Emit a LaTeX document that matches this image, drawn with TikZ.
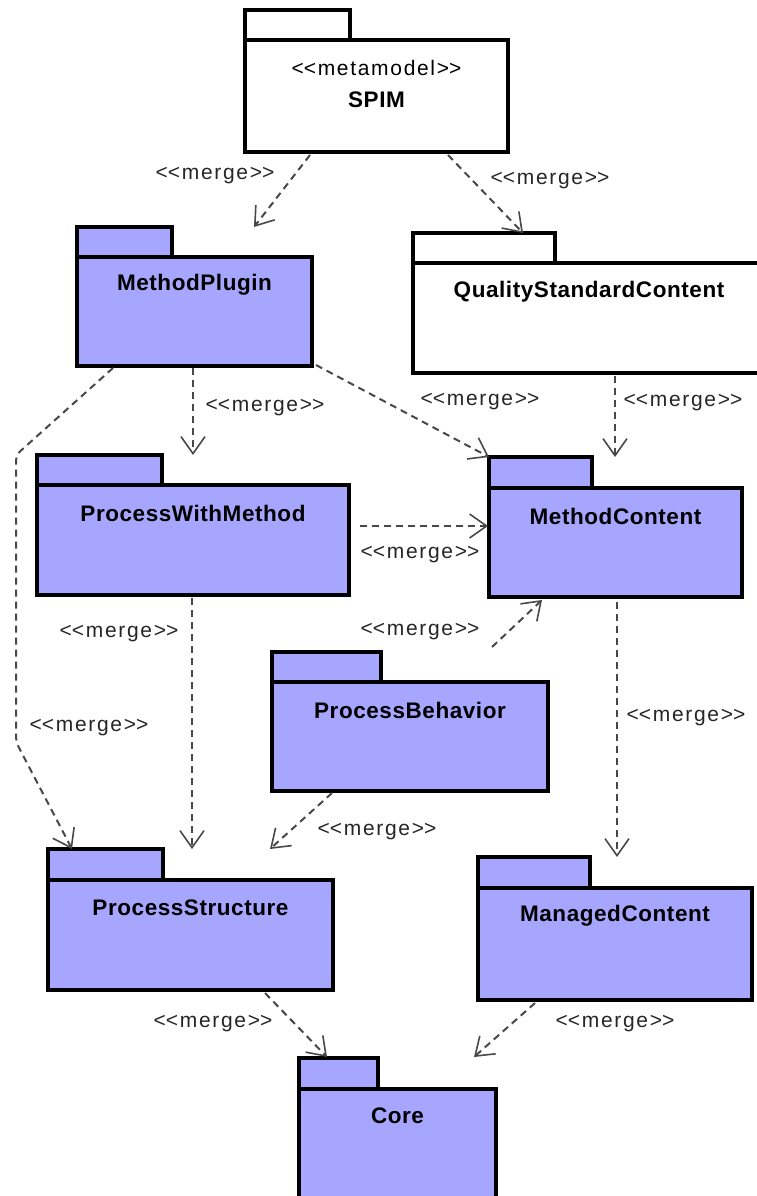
\documentclass[tikz,border=0pt]{standalone}
\usepackage{fontspec}
\setmainfont{Liberation Sans}
\newfontfamily\namefont{Liberation Sans}[LetterSpace=2.5]
\newfontfamily\labelfont{Liberation Sans}[LetterSpace=8]
\usetikzlibrary{arrows.meta,calc}

\definecolor{pkgblue}{RGB}{166,166,255}
\definecolor{depgray}{RGB}{72,72,72}

% stereotype brackets, kept as plain < and >
\newcommand\stereotype[1]{<\kern0pt<#1>\kern0pt>}

\tikzset{
  pkgline/.style={draw=black, line width=3.5pt},
  pkgbody/.style={pkgline, rectangle, inner sep=0pt, outer sep=0pt, anchor=north west},
  pkgname/.style={font=\namefont\fontsize{22.5}{26}\selectfont\bfseries, inner sep=0pt},
  stereo/.style={font=\labelfont\fontsize{21}{25}\selectfont, inner sep=0pt},
  mlabel/.style={font=\labelfont\fontsize{21}{25}\selectfont, text=black!85, inner sep=0pt},
  merge/.style={draw=depgray, line width=2pt, dash pattern=on 7pt off 5pt,
    -{Straight Barb[length=17pt,width=24pt,line width=1.6pt]}},
}

% \umlpkg{name}{left}{tab top}{tab right}{body top}{right}{bottom}{fill}
\newcommand\umlpkg[8]{%
  \draw[pkgline, fill=#8] (#2,#3) rectangle (#4,#5);
  \node[pkgbody, fill=#8, minimum width={(#6-#2)*1pt}, minimum height={(#7-#5)*1pt}]
    (#1) at (#2,#5) {};
}

\begin{document}
\begin{tikzpicture}[x=1pt, y=-1pt]
  \useasboundingbox (0,0) rectangle (757,1196);
  \clip (0,0) rectangle (757,1196);

  % packages
  \umlpkg{spim}{245}{10}{350}{40}{508}{152}{white}
  \umlpkg{plugin}{77}{227}{172}{257}{312}{366}{pkgblue}
  \umlpkg{quality}{413}{233}{555}{263}{766}{373}{white}
  \umlpkg{pwm}{37}{455}{162}{485}{349}{595}{pkgblue}
  \umlpkg{content}{489}{457}{592}{488}{742}{597}{pkgblue}
  \umlpkg{behavior}{272}{652}{381}{682}{548}{791}{pkgblue}
  \umlpkg{structure}{48}{849}{163}{880}{333}{990}{pkgblue}
  \umlpkg{managed}{478}{857}{590}{888}{752}{1000}{pkgblue}
  \umlpkg{core}{299}{1058}{378}{1089}{496}{1215}{pkgblue}

  % package titles
  \node[stereo]  (spim-st)    at ($(spim.north)+(0,28)$) {\stereotype{metamodel}};
  \node[pkgname] (spim-nm)    at ($(spim.north)+(0,60)$) {SPIM};
  \node[pkgname] (plugin-nm)  at ($(plugin.north)+(0,28)$) {MethodPlugin};
  \node[pkgname] (quality-nm) at ($(quality.north west)+(176,29)$) {QualityStandardContent};
  \node[pkgname] (pwm-nm)     at ($(pwm.north)+(0,28)$) {ProcessWithMethod};
  \node[pkgname] (content-nm) at ($(content.north)+(0,28)$) {MethodContent};
  \node[pkgname] (behavior-nm) at ($(behavior.north)+(0,28)$) {ProcessBehavior};
  \node[pkgname] (structure-nm) at ($(structure.north)+(0,28)$) {ProcessStructure};
  \node[pkgname] (managed-nm) at ($(managed.north)+(0,28)$) {ManagedContent};
  \node[pkgname] (core-nm)    at ($(core.north)+(0,27)$) {Core};

  % bends of the long connector on the left
  \coordinate (bendA) at (16,455);
  \coordinate (bendB) at (16,742);

  % merge dependencies
  \draw[merge] ($(spim.south west)+(65,3)$) -- ($(plugin.north west)+(177,-30)$);
  \draw[merge] ($(spim.south west)+(203,3)$) -- ($(quality.north west)+(110,-30)$);
  \draw[merge] ($(plugin.south west)+(116,2)$) -- ($(pwm.north west)+(156,-30)$);
  \draw[merge] ($(plugin.south east)+(4,-1)$) -- ($(content.north west)+(0,-31)$);
  \draw[merge] ($(quality.south west)+(202,3)$) -- ($(content.north west)+(126,-31)$);
  \draw[merge, rounded corners=6pt] ($(plugin.south west)+(36,2)$) -- (bendA) -- (bendB)
    -- ($(structure.north west)+(24,-31)$);
  \draw[merge] ($(pwm.north east)+(11,41)$) -- ($(content.north west)+(-1,38)$);
  \draw[merge] ($(pwm.south west)+(155,3)$) -- ($(structure.north west)+(144,-31)$);
  \draw[merge] ($(behavior.north east)+(-56,-35)$) -- ($(content.south west)+(53,3)$);
  \draw[merge] ($(content.south west)+(128,5)$) -- ($(managed.north west)+(139,-31)$);
  \draw[merge] ($(behavior.south west)+(60,2)$) -- ($(structure.north east)+(-63,-31)$);
  \draw[merge] ($(structure.south east)+(-68,3)$) -- ($(core.north west)+(28,-32)$);
  \draw[merge] ($(managed.south west)+(57,3)$) -- ($(core.north east)+(-22,-32)$);

  % merge labels
  \node[mlabel] (m1)  at (215,176)  {\stereotype{merge}};
  \node[mlabel] (m2)  at (550,181)  {\stereotype{merge}};
  \node[mlabel] (m3)  at (265,408)  {\stereotype{merge}};
  \node[mlabel] (m4)  at (480,402)  {\stereotype{merge}};
  \node[mlabel] (m5)  at (683,403)  {\stereotype{merge}};
  \node[mlabel] (m6)  at (89,728)   {\stereotype{merge}};
  \node[mlabel] (m7)  at (420,555)  {\stereotype{merge}};
  \node[mlabel] (m8)  at (119,634)  {\stereotype{merge}};
  \node[mlabel] (m9)  at (420,632)  {\stereotype{merge}};
  \node[mlabel] (m10) at (686,718)  {\stereotype{merge}};
  \node[mlabel] (m11) at (377,832)  {\stereotype{merge}};
  \node[mlabel] (m12) at (213,1024) {\stereotype{merge}};
  \node[mlabel] (m13) at (615,1024) {\stereotype{merge}};
\end{tikzpicture}
\end{document}
